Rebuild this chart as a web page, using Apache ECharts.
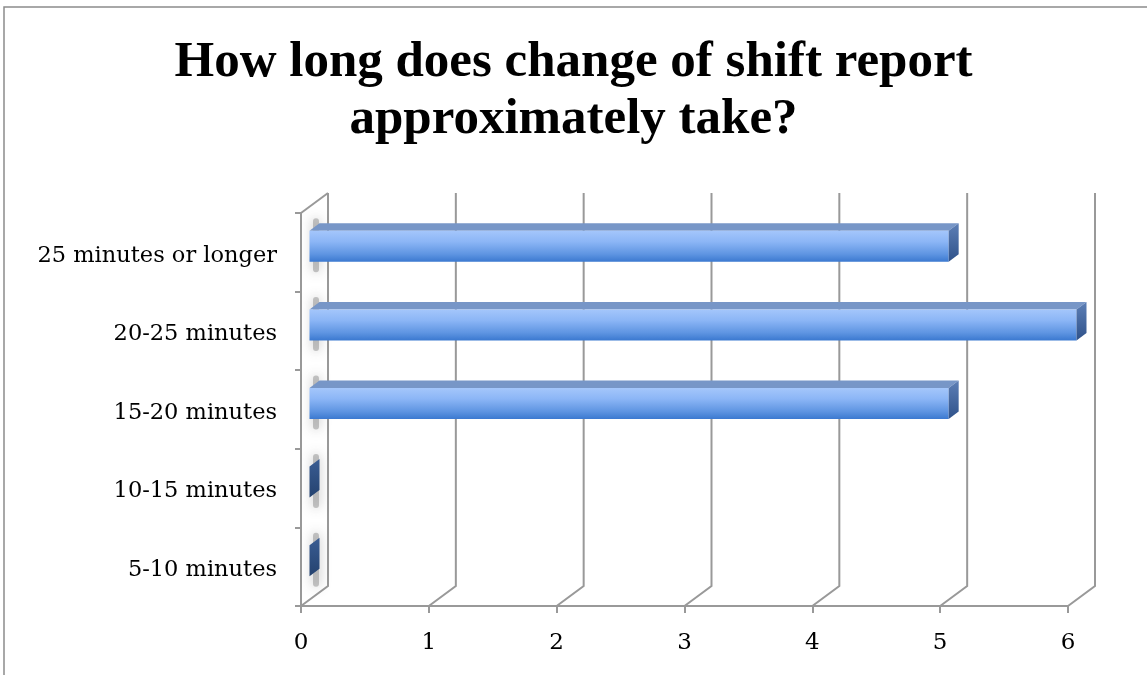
<!DOCTYPE html>
<html>
<head>
<meta charset="utf-8">
<script src="https://cdn.jsdelivr.net/npm/echarts@6/dist/echarts.min.js"></script>
<style>html,body{margin:0;padding:0;background:#fff}#c{width:1147px;height:675px}</style>
</head>
<body>
<div id="c"></div>
<script>
var titleText = 'How long does change of shift report\napproximately take?';
var categories = ['5-10 minutes', '10-15 minutes', '15-20 minutes', '20-25 minutes', '25 minutes or longer'];
var values = [0, 0, 5, 6, 5];
var xTicks = [0, 1, 2, 3, 4, 5, 6];

var DEPTH = [27, -20];      // back wall offset
var BAR_FRONT = [8.5, -6];  // bar front face offset from front plane
var BAR_DEPTH = [10, -7.5]; // bar thickness
var BAR_H = 31;
var GRID_COLOR = '#999999';

var chart = echarts.init(document.getElementById('c'), null, {renderer: 'canvas'});

function gridRender(params, api) {
  var v = api.value(0);
  var cs = params.coordSys;
  var x = api.coord([v, 0])[0];
  var yb = cs.y + cs.height, yt = cs.y;
  var pts = [[x, yb], [x + DEPTH[0], yb + DEPTH[1]], [x + DEPTH[0], yt + DEPTH[1]]];
  var children = [{
    type: 'polyline', shape: {points: pts},
    style: {stroke: GRID_COLOR, lineWidth: 2, fill: null}
  }];
  if (v === 0) {
    children.push({
      type: 'polyline', shape: {points: [[x, yt], [x + DEPTH[0], yt + DEPTH[1]]]},
      style: {stroke: GRID_COLOR, lineWidth: 2, fill: null}
    });
  }
  return {type: 'group', children: children};
}

function shadowRender(params, api) {
  var i = api.value(0);
  var p = api.coord([0, i]);
  var x = p[0], cy = p[1] + BAR_FRONT[1];
  return {
    type: 'rect',
    shape: {x: x + 12, y: cy - 28, width: 6, height: 54, r: 3},
    style: {fill: 'rgba(130,130,130,0.45)', shadowBlur: 12, shadowColor: 'rgba(70,70,70,0.8)'}
  };
}

function barRender(params, api) {
  var i = api.value(0), v = api.value(1);
  var p0 = api.coord([0, i]);
  var p1 = api.coord([v, i]);
  var fx0 = p0[0] + BAR_FRONT[0], fx1 = p1[0] + BAR_FRONT[0];
  var cy = p0[1] + BAR_FRONT[1];
  var y0 = cy - BAR_H / 2, y1 = cy + BAR_H / 2;
  var dx = BAR_DEPTH[0], dy = BAR_DEPTH[1];
  var children = [];
  if (fx1 - fx0 > 0.5) {
    children.push({
      type: 'polygon',
      shape: {points: [[fx0, y0], [fx1, y0], [fx1 + dx, y0 + dy], [fx0 + dx, y0 + dy]]},
      style: {fill: '#7796c7'}
    });
    children.push({
      type: 'rect',
      shape: {x: fx0, y: y0, width: fx1 - fx0, height: BAR_H},
      style: {fill: new echarts.graphic.LinearGradient(0, 0, 0, 1, [
        {offset: 0, color: '#a4c6fb'},
        {offset: 0.35, color: '#8cb6f6'},
        {offset: 0.75, color: '#5f95e2'},
        {offset: 1, color: '#3b79d0'}
      ])}
    });
  }
  var sideColor = v === 0 ? new echarts.graphic.LinearGradient(0, 0, 0, 1, [
      {offset: 0, color: '#3a5d93'}, {offset: 1, color: '#24426f'}])
    : new echarts.graphic.LinearGradient(0, 0, 0, 1, [
      {offset: 0, color: '#5d7fb6'}, {offset: 1, color: '#2f528a'}]);
  children.push({
    type: 'polygon',
    shape: {points: [[fx1, y0], [fx1 + dx, y0 + dy], [fx1 + dx, y1 + dy], [fx1, y1]]},
    style: {fill: sideColor}
  });
  return {type: 'group', children: children};
}

var barData = values.map(function (v, i) { return [i, v]; });
var shadowData = values.map(function (v, i) { return [i]; });
var tickData = xTicks.map(function (t) { return [t]; });

chart.setOption({
  animation: false,
  backgroundColor: '#ffffff',
  title: {
    text: titleText,
    left: 'center',
    top: 29,
    textStyle: {
      fontFamily: 'Liberation Serif',
      fontWeight: 'bold',
      fontSize: 51,
      lineHeight: 57,
      color: '#000000'
    }
  },
  graphic: [{
    type: 'rect',
    shape: {x: 4, y: 7, width: 1300, height: 800},
    style: {fill: null, stroke: '#8c8c8c', lineWidth: 1.5},
    silent: true,
    z: 100
  }],
  grid: {left: 301, right: 79, top: 213, bottom: 69, containLabel: false},
  xAxis: {
    type: 'value',
    min: 0, max: 6, interval: 1,
    axisLine: {show: true, lineStyle: {color: GRID_COLOR, width: 2}},
    axisTick: {show: true, length: 7, lineStyle: {color: GRID_COLOR, width: 2}},
    splitLine: {show: false},
    axisLabel: {
      fontFamily: 'DejaVu Serif', fontSize: 23, color: '#000000', margin: 26
    }
  },
  yAxis: {
    type: 'category',
    data: categories,
    axisLine: {show: true, lineStyle: {color: GRID_COLOR, width: 2}},
    axisTick: {show: true, length: 6, lineStyle: {color: GRID_COLOR, width: 2}},
    splitLine: {show: false},
    axisLabel: {
      margin: 24,
      formatter: function (v) { return '{a|' + v + '}'; },
      rich: {
        a: {fontFamily: 'DejaVu Serif', fontSize: 22.5, color: '#000000', padding: [7, 0, 0, 0]}
      }
    }
  },
  series: [
    {type: 'custom', renderItem: gridRender, data: tickData, z: 1, silent: true, clip: false,
     encode: {x: 0}},
    {type: 'custom', renderItem: shadowRender, data: shadowData, z: 2, silent: true, clip: false,
     encode: {y: 0}},
    {type: 'custom', renderItem: barRender, data: barData, z: 3, clip: false,
     encode: {y: 0, x: 1}}
  ]
});
</script>
</body>
</html>
